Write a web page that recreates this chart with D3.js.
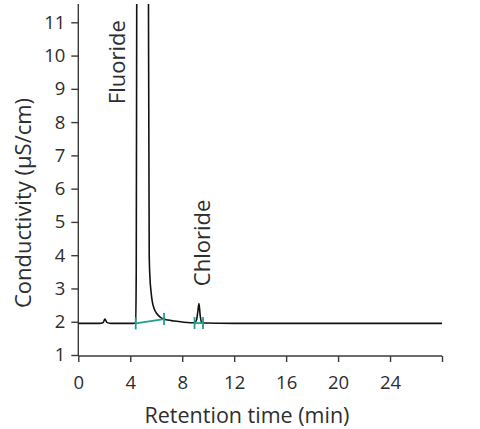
<!DOCTYPE html>
<html>
<head>
<meta charset="utf-8">
<script src="https://cdn.jsdelivr.net/npm/d3@7"></script>
<style>
  html, body { margin: 0; padding: 0; background: #fff; }
  svg { display: block; font-family: "Open Sans", sans-serif; }
</style>
</head>
<body>
<svg id="chart" width="480" height="429"></svg>
<script>
// Retention time (min) and conductivity (µS/cm)
const timeMin = [0, 1.6, 1.9, 2.05, 2.2, 2.5, 4.2, 4.42, 4.46, 4.5, 4.56, 4.7, 5.2, 5.36, 5.4, 5.46, 5.52, 5.6, 5.7, 5.85, 6.05, 6.3, 6.6, 6.9, 7.4, 8.0, 8.6, 8.95, 9.1, 9.2, 9.29, 9.38, 9.5, 9.7, 12, 20, 28];
const conductivity = [1.95, 1.95, 1.97, 2.08, 1.98, 1.95, 1.95, 1.97, 3.5, 12, 20, 30, 30, 20, 12, 4.0, 3.3, 2.9, 2.6, 2.38, 2.24, 2.14, 2.08, 2.05, 2.02, 1.99, 1.97, 1.97, 2.05, 2.3, 2.55, 2.2, 1.98, 1.96, 1.95, 1.95, 1.95];

// Integration marks: [start time, start value, end time, end value]
const integrations = [
  [4.42, 1.95, 6.6, 2.08],
  [8.95, 1.96, 9.6, 1.96]
];

const peakNames = ["Fluoride", "Chloride"];
const peakLabelPos = [[2.9, 9.8], [9.42, 4.37]]; // [time, conductivity] of label centres

const xTicks = [0, 4, 8, 12, 16, 20, 24, 28];
const xTickLabels = ["0", "4", "8", "12", "16", "20", "24", ""];
const yTicks = [1, 2, 3, 4, 5, 6, 7, 8, 9, 10, 11];

const svg = d3.select("#chart");
const x = d3.scaleLinear().domain([0, 28]).range([78.3, 442]);
const y = d3.scaleLinear().domain([0.97, 11.55]).range([356, 4]);

const axisColor = "#3a3a3a";
const textColor = "#2e2e2e";

// clip region
svg.append("defs").append("clipPath").attr("id", "plotclip")
  .append("rect").attr("x", x(0)).attr("y", y(11.55)).attr("width", x(28) - x(0) + 2).attr("height", y(0.97) - y(11.55));

// axes
const xAxis = d3.axisBottom(x).tickValues(xTicks).tickSize(6).tickPadding(14)
  .tickFormat((d, i) => xTickLabels[i]);
const gx = svg.append("g").attr("transform", `translate(0,${y(0.97)})`).call(xAxis);
const yAxis = d3.axisLeft(y).tickValues(yTicks).tickSize(7).tickPadding(6).tickFormat(d3.format("d"));
const gy = svg.append("g").attr("transform", `translate(${x(0)},0)`).call(yAxis);

[gx, gy].forEach(g => {
  g.select(".domain").attr("stroke", axisColor).attr("stroke-width", 1.4);
  g.selectAll(".tick line").attr("stroke", axisColor).attr("stroke-width", 1.4);
  g.selectAll(".tick text").attr("fill", textColor).attr("font-size", 18.5)
    .attr("font-family", "'Open Sans', sans-serif");
});
gy.select(".domain").attr("d", `M0,${y(11.55)}V${y(0.97)}`);
gx.select(".domain").attr("d", `M${x(0)},0H${x(28)}`);

// data line
const pts = timeMin.map((t, i) => [t, conductivity[i]]);
svg.append("path")
  .attr("clip-path", "url(#plotclip)")
  .attr("d", d3.line().x(d => x(d[0])).y(d => y(d[1])).curve(d3.curveMonotoneX)(pts))
  .attr("fill", "none").attr("stroke", "#111").attr("stroke-width", 1.6);

// integration marks
const teal = "#1f9e8f";
integrations.forEach(r => {
  const g = svg.append("g").attr("stroke", teal).attr("stroke-width", 1.8);
  g.append("line").attr("x1", x(r[0])).attr("y1", y(r[1])).attr("x2", x(r[2])).attr("y2", y(r[3]));
  g.append("line").attr("x1", x(r[0])).attr("x2", x(r[0])).attr("y1", y(r[1]) - 6).attr("y2", y(r[1]) + 6);
  g.append("line").attr("x1", x(r[2])).attr("x2", x(r[2])).attr("y1", y(r[3]) - 6).attr("y2", y(r[3]) + 6);
});

// peak labels
peakNames.forEach((n, i) => {
  const px = x(peakLabelPos[i][0]), py = y(peakLabelPos[i][1]);
  svg.append("text").text(n)
    .attr("transform", `translate(${px},${py}) rotate(-90)`)
    .attr("text-anchor", "middle").attr("dominant-baseline", "central")
    .attr("font-size", 22).attr("fill", textColor);
});

// axis titles
svg.append("text").text("Retention time (min)")
  .attr("x", 247).attr("y", 423).attr("text-anchor", "middle")
  .attr("font-size", 21.5).attr("fill", textColor);
svg.append("text").text("Conductivity (µS/cm)")
  .attr("transform", `translate(22,203) rotate(-90)`)
  .attr("text-anchor", "middle").attr("dominant-baseline", "central")
  .attr("font-size", 22).attr("fill", textColor);
</script>
</body>
</html>
